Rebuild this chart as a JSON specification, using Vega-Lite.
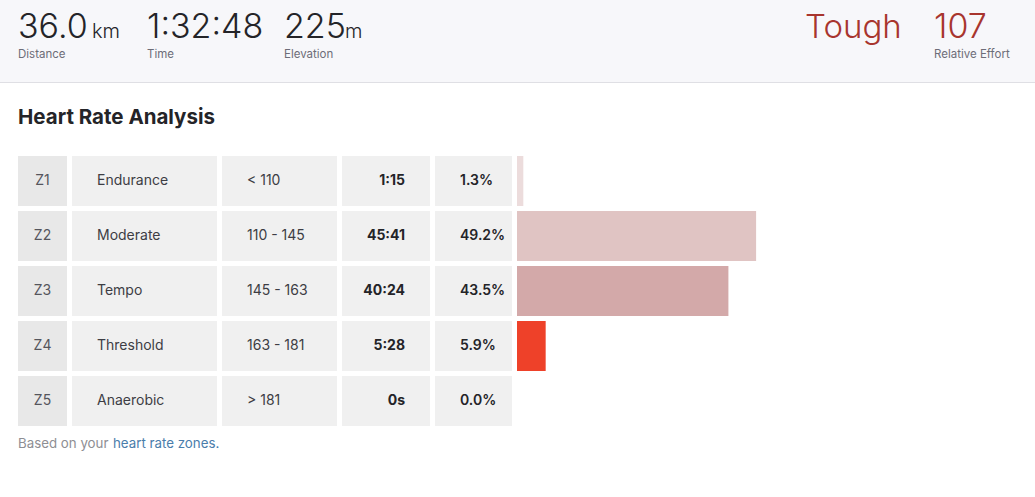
{
  "$schema": "https://vega.github.io/schema/vega-lite/v6.json",
  "padding": 0,
  "background": "#ffffff",
  "config": {"view": {"stroke": null}, "font": "Inter", "text": {"font": "Inter"}, "title": {"font": "Inter"}},
  "datasets": {
    "header": [
      {"key": "Distance", "value": "36.0", "unit": "km", "label": "Distance"},
      {"key": "Time", "value": "1:32:48", "unit": "", "label": "Time"},
      {"key": "Elevation", "value": "225", "unit": "m", "label": "Elevation"},
      {"key": "Effort", "value": "Tough", "unit": "", "label": ""},
      {"key": "Relative Effort", "value": "107", "unit": "", "label": "Relative Effort"}
    ],
    "zones": [
      {"zone": "Z1", "name": "Endurance", "range": "< 110", "time": "1:15", "pct": 0.013},
      {"zone": "Z2", "name": "Moderate", "range": "110 - 145", "time": "45:41", "pct": 0.492},
      {"zone": "Z3", "name": "Tempo", "range": "145 - 163", "time": "40:24", "pct": 0.435},
      {"zone": "Z4", "name": "Threshold", "range": "163 - 181", "time": "5:28", "pct": 0.059},
      {"zone": "Z5", "name": "Anaerobic", "range": "> 181", "time": "0s", "pct": 0.0}
    ],
    "footer": [
      {"part": "Based on your"},
      {"part": "heart rate zones."}
    ]
  },
  "resolve": {"scale": {"color": "independent"}},
  "spacing": 24,
  "vconcat": [
    {
      "spacing": 0,
      "vconcat": [
        {
          "spacing": 0,
          "hconcat": [
            {"width": 18, "height": 82, "view": {"fill": "#f7f7fa"}, "data": {"name": "header"}, "transform": [{"filter": "false"}], "mark": "text", "encoding": {"text": {"value": ""}}},
            {
              "width": 129, "height": 82, "view": {"fill": "#f7f7fa"},
              "data": {"name": "header"},
              "transform": [{"filter": "datum.key === 'Distance'"}],
              "encoding": {"x": {"datum": 0, "type": "quantitative", "scale": {"domain": [0, 1]}, "axis": null}},
              "layer": [
                {"mark": {"type": "text", "align": "left", "baseline": "alphabetic", "dy": -3, "fontSize": 34, "fontWeight": 300, "color": "#242428"}, "encoding": {"text": {"field": "value", "type": "nominal"}}},
                {"mark": {"type": "text", "align": "left", "baseline": "alphabetic", "dy": -3, "dx": 74, "fontSize": 20, "fontWeight": 300, "color": "#242428"}, "encoding": {"text": {"field": "unit", "type": "nominal"}}},
                {"mark": {"type": "text", "align": "left", "baseline": "alphabetic", "dy": 17, "fontSize": 11.5, "color": "#6d6d78"}, "encoding": {"text": {"field": "label", "type": "nominal"}}}
              ]
            },
            {
              "width": 137, "height": 82, "view": {"fill": "#f7f7fa"},
              "data": {"name": "header"},
              "transform": [{"filter": "datum.key === 'Time'"}],
              "encoding": {"x": {"datum": 0, "type": "quantitative", "scale": {"domain": [0, 1]}, "axis": null}},
              "layer": [
                {"mark": {"type": "text", "align": "left", "baseline": "alphabetic", "dy": -3, "fontSize": 34, "fontWeight": 300, "color": "#242428"}, "encoding": {"text": {"field": "value", "type": "nominal"}}},
                {"mark": {"type": "text", "align": "left", "baseline": "alphabetic", "dy": 17, "fontSize": 11.5, "color": "#6d6d78"}, "encoding": {"text": {"field": "label", "type": "nominal"}}}
              ]
            },
            {
              "width": 521, "height": 82, "view": {"fill": "#f7f7fa"},
              "data": {"name": "header"},
              "transform": [{"filter": "datum.key === 'Elevation'"}],
              "encoding": {"x": {"datum": 0, "type": "quantitative", "scale": {"domain": [0, 1]}, "axis": null}},
              "layer": [
                {"mark": {"type": "text", "align": "left", "baseline": "alphabetic", "dy": -3, "fontSize": 34, "fontWeight": 300, "color": "#242428"}, "encoding": {"text": {"field": "value", "type": "nominal"}}},
                {"mark": {"type": "text", "align": "left", "baseline": "alphabetic", "dy": -3, "dx": 61, "fontSize": 20, "fontWeight": 300, "color": "#242428"}, "encoding": {"text": {"field": "unit", "type": "nominal"}}},
                {"mark": {"type": "text", "align": "left", "baseline": "alphabetic", "dy": 17, "fontSize": 11.5, "color": "#6d6d78"}, "encoding": {"text": {"field": "label", "type": "nominal"}}}
              ]
            },
            {
              "width": 129, "height": 82, "view": {"fill": "#f7f7fa"},
              "data": {"name": "header"},
              "transform": [{"filter": "datum.key === 'Effort'"}],
              "encoding": {"x": {"datum": 0, "type": "quantitative", "scale": {"domain": [0, 1]}, "axis": null}},
              "layer": [
                {"mark": {"type": "text", "align": "left", "baseline": "alphabetic", "dy": -3, "fontSize": 33, "fontWeight": 300, "color": "#a8352e"}, "encoding": {"text": {"field": "value", "type": "nominal"}}}
              ]
            },
            {
              "width": 101, "height": 82, "view": {"fill": "#f7f7fa"},
              "data": {"name": "header"},
              "transform": [{"filter": "datum.key === 'Relative Effort'"}],
              "encoding": {"x": {"datum": 0, "type": "quantitative", "scale": {"domain": [0, 1]}, "axis": null}},
              "layer": [
                {"mark": {"type": "text", "align": "left", "baseline": "alphabetic", "dy": -3, "fontSize": 34, "fontWeight": 300, "color": "#a8352e"}, "encoding": {"text": {"field": "value", "type": "nominal"}}},
                {"mark": {"type": "text", "align": "left", "baseline": "alphabetic", "dy": 17, "fontSize": 11.5, "color": "#6d6d78"}, "encoding": {"text": {"field": "label", "type": "nominal"}}}
              ]
            }
          ]
        },
        {"width": 1035, "height": 1, "view": {"fill": "#dfdfe4"}, "data": {"name": "footer"}, "transform": [{"filter": "false"}], "mark": "text", "encoding": {"text": {"value": ""}}}
      ]
    },
    {
      "spacing": 11,
      "resolve": {"scale": {"color": "independent"}},
      "vconcat": [
        {
          "title": {"text": "Heart Rate Analysis", "anchor": "start", "dx": 18, "fontSize": 20.5, "fontWeight": "bold", "color": "#242428", "baseline": "alphabetic", "offset": 12, "font": "Inter"},
          "spacing": 5,
          "hconcat": [
            {"width": 13, "height": 270, "data": {"name": "zones"}, "transform": [{"filter": "false"}], "mark": "text", "encoding": {"text": {"value": ""}}},
            {
              "width": 49, "height": 270, "data": {"name": "zones"},
              "encoding": {"y": {"field": "zone", "type": "nominal", "scale": {"paddingInner": 0.0909, "paddingOuter": 0}, "axis": null}},
              "layer": [
                {"mark": {"type": "bar", "color": "#e8e8e8"}, "encoding": {"x": {"datum": 0, "type": "quantitative", "scale": {"domain": [0, 1]}, "axis": null}, "x2": {"datum": 1}}},
                {"mark": {"type": "text", "align": "center", "baseline": "middle", "fontSize": 14, "color": "#55555c"}, "encoding": {"x": {"datum": 0.5, "type": "quantitative"}, "text": {"field": "zone", "type": "nominal"}}}
              ]
            },
            {
              "width": 145, "height": 270, "data": {"name": "zones"},
              "encoding": {"y": {"field": "zone", "type": "nominal", "scale": {"paddingInner": 0.0909, "paddingOuter": 0}, "axis": null}},
              "layer": [
                {"mark": {"type": "bar", "color": "#f0f0f0"}, "encoding": {"x": {"datum": 0, "type": "quantitative", "scale": {"domain": [0, 1]}, "axis": null}, "x2": {"datum": 1}}},
                {"mark": {"type": "text", "align": "left", "baseline": "middle", "dx": 25, "fontSize": 14, "color": "#3d3d44"}, "encoding": {"x": {"datum": 0, "type": "quantitative"}, "text": {"field": "name", "type": "nominal"}}}
              ]
            },
            {
              "width": 115, "height": 270, "data": {"name": "zones"},
              "encoding": {"y": {"field": "zone", "type": "nominal", "scale": {"paddingInner": 0.0909, "paddingOuter": 0}, "axis": null}},
              "layer": [
                {"mark": {"type": "bar", "color": "#f0f0f0"}, "encoding": {"x": {"datum": 0, "type": "quantitative", "scale": {"domain": [0, 1]}, "axis": null}, "x2": {"datum": 1}}},
                {"mark": {"type": "text", "align": "left", "baseline": "middle", "dx": 25, "fontSize": 14, "color": "#3d3d44"}, "encoding": {"x": {"datum": 0, "type": "quantitative"}, "text": {"field": "range", "type": "nominal"}}}
              ]
            },
            {
              "width": 88, "height": 270, "data": {"name": "zones"},
              "encoding": {"y": {"field": "zone", "type": "nominal", "scale": {"paddingInner": 0.0909, "paddingOuter": 0}, "axis": null}},
              "layer": [
                {"mark": {"type": "bar", "color": "#f0f0f0"}, "encoding": {"x": {"datum": 0, "type": "quantitative", "scale": {"domain": [0, 1]}, "axis": null}, "x2": {"datum": 1}}},
                {"mark": {"type": "text", "align": "right", "baseline": "middle", "dx": -25, "fontSize": 14, "fontWeight": "bold", "color": "#242428"}, "encoding": {"x": {"datum": 1, "type": "quantitative"}, "text": {"field": "time", "type": "nominal"}}}
              ]
            },
            {
              "width": 77, "height": 270, "data": {"name": "zones"},
              "encoding": {"y": {"field": "zone", "type": "nominal", "scale": {"paddingInner": 0.0909, "paddingOuter": 0}, "axis": null}},
              "layer": [
                {"mark": {"type": "bar", "color": "#f0f0f0"}, "encoding": {"x": {"datum": 0, "type": "quantitative", "scale": {"domain": [0, 1]}, "axis": null}, "x2": {"datum": 1}}},
                {"mark": {"type": "text", "align": "left", "baseline": "middle", "dx": 25, "fontSize": 14, "fontWeight": 600, "color": "#242428"}, "encoding": {"x": {"datum": 0, "type": "quantitative"}, "text": {"field": "pct", "type": "quantitative", "format": ".1%"}}}
              ]
            },
            {
              "width": 486, "height": 270, "data": {"name": "zones"},
              "mark": {"type": "bar"},
              "encoding": {
                "y": {"field": "zone", "type": "nominal", "scale": {"paddingInner": 0.0909, "paddingOuter": 0}, "axis": null},
                "x": {"field": "pct", "type": "quantitative", "scale": {"domain": [0, 1], "nice": false}, "axis": null},
                "color": {"field": "zone", "type": "nominal", "scale": {"domain": ["Z1", "Z2", "Z3", "Z4", "Z5"], "range": ["#ecdcdc", "#e0c4c3", "#d3a9a9", "#ee4129", "#dddddd"]}, "legend": null}
              }
            }
          ]
        },
        {
          "width": 300, "height": 20, "data": {"name": "footer"},
          "encoding": {
            "x": {"field": "part", "type": "nominal", "scale": {"type": "point", "domain": ["Based on your", "heart rate zones."], "range": [18, 113], "padding": 0}, "axis": null},
            "text": {"field": "part", "type": "nominal"}
          },
          "layer": [
            {"transform": [{"filter": "datum.part === 'Based on your'"}], "mark": {"type": "text", "align": "left", "baseline": "alphabetic", "fontSize": 13.3, "color": "#8e8e93"}},
            {"transform": [{"filter": "datum.part === 'heart rate zones.'"}], "mark": {"type": "text", "align": "left", "baseline": "alphabetic", "fontSize": 13.3, "color": "#4a7dab"}}
          ]
        }
      ]
    }
  ]
}
